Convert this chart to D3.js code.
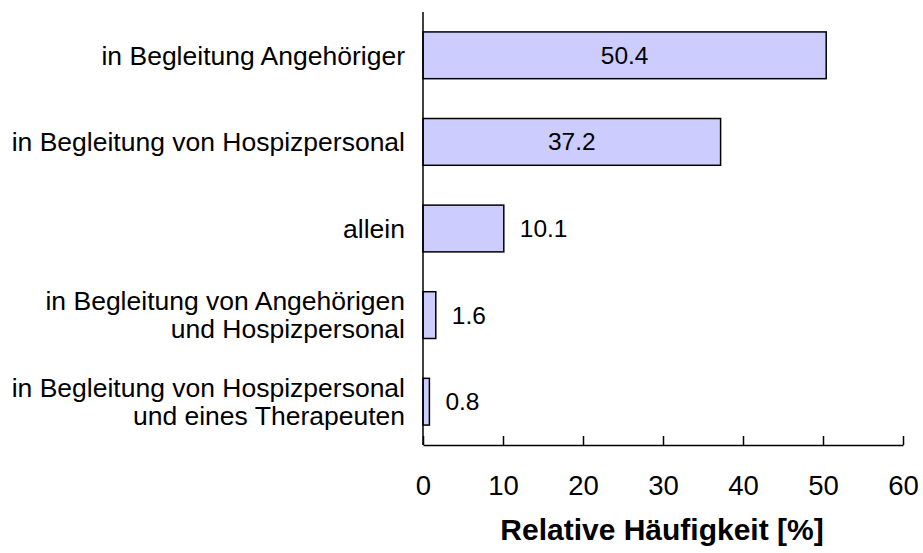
<!DOCTYPE html>
<html>
<head>
<meta charset="utf-8">
<script src="https://cdn.jsdelivr.net/npm/d3@7"></script>
<style>
  body { margin: 0; background: #fff; }
  text { font-family: "Liberation Sans", Arial, sans-serif; }
</style>
</head>
<body>
<div id="chart"></div>
<script>
// Categories (top to bottom), each split into display lines.
const categories = [
    ["in Begleitung Angehöriger"],
    ["in Begleitung von Hospizpersonal"],
    ["allein"],
    ["in Begleitung von Angehörigen", "und Hospizpersonal"],
    ["in Begleitung von Hospizpersonal", "und eines Therapeuten"]
];
const values = [50.4, 37.2, 10.1, 1.6, 0.8];
const valueLabels = ["50.4", "37.2", "10.1", "1.6", "0.8"];
const xTicks = [0, 10, 20, 30, 40, 50, 60];
const xTitle = "Relative Häufigkeit [%]";

const width = 923;
const height = 553;
const margin = {top: 12, right: 20, bottom: 108, left: 423};

const svg = d3.select("#chart")
    .append("svg")
    .attr("width", width)
    .attr("height", height);

const x = d3.scaleLinear().domain([0, 60]).range([margin.left, 903]);
const y = d3.scaleBand()
    .domain(d3.range(values.length))
    .range([margin.top, height - margin.bottom])
    .paddingInner(0.46)
    .paddingOuter(0.23);

// Bars
svg.selectAll("rect.bar")
    .data(values)
    .enter()
    .append("rect")
    .attr("class", "bar")
    .attr("x", x(0))
    .attr("y", (d, i) => y(i))
    .attr("width", d => x(d) - x(0))
    .attr("height", y.bandwidth())
    .attr("fill", "#ccccff")
    .attr("stroke", "#000")
    .attr("stroke-width", 1.5);

// Value labels: inside the bar when it is wide enough, otherwise right of it.
values.forEach((v, i) => {
    const inside = v > 20;
    svg.append("text")
        .attr("x", inside ? (x(0) + x(v)) / 2 : x(v) + 16)
        .attr("y", y(i) + y.bandwidth() / 2)
        .attr("dy", "0.35em")
        .attr("text-anchor", inside ? "middle" : "start")
        .attr("font-size", "24.5px")
        .attr("fill", "#000")
        .text(valueLabels[i]);
});

// Category labels
categories.forEach((lines, i) => {
    const cy = y(i) + y.bandwidth() / 2;
    const lh = 28;
    const t = svg.append("text")
        .attr("x", 405)
        .attr("text-anchor", "end")
        .attr("font-size", "26.5px")
        .attr("fill", "#000");
    lines.forEach((s, k) => {
        t.append("tspan")
            .attr("x", 405)
            .attr("y", cy + (k - (lines.length - 1) / 2) * lh)
            .attr("dy", "0.35em")
            .text(s);
    });
});

// X axis with ticks pointing inward
const xAxis = svg.append("g")
    .attr("transform", `translate(0,${height - margin.bottom})`)
    .call(d3.axisBottom(x).tickValues(xTicks).tickSizeInner(-9).tickSizeOuter(0).tickPadding(30));
xAxis.select(".domain").attr("stroke", "#000").attr("stroke-width", 1.5);
xAxis.selectAll(".tick line").attr("stroke", "#000").attr("stroke-width", 1.5);
xAxis.selectAll(".tick text")
    .attr("font-size", "27.5px")
    .attr("font-family", "Liberation Sans, Arial, sans-serif")
    .attr("fill", "#000");

// Y axis line
svg.append("line")
    .attr("x1", x(0)).attr("x2", x(0))
    .attr("y1", margin.top).attr("y2", height - margin.bottom)
    .attr("stroke", "#000")
    .attr("stroke-width", 1.5);

// Axis title
svg.append("text")
    .attr("x", 662)
    .attr("y", 540)
    .attr("text-anchor", "middle")
    .attr("font-size", "30px")
    .attr("font-weight", "bold")
    .attr("fill", "#000")
    .text(xTitle);
</script>
</body>
</html>
